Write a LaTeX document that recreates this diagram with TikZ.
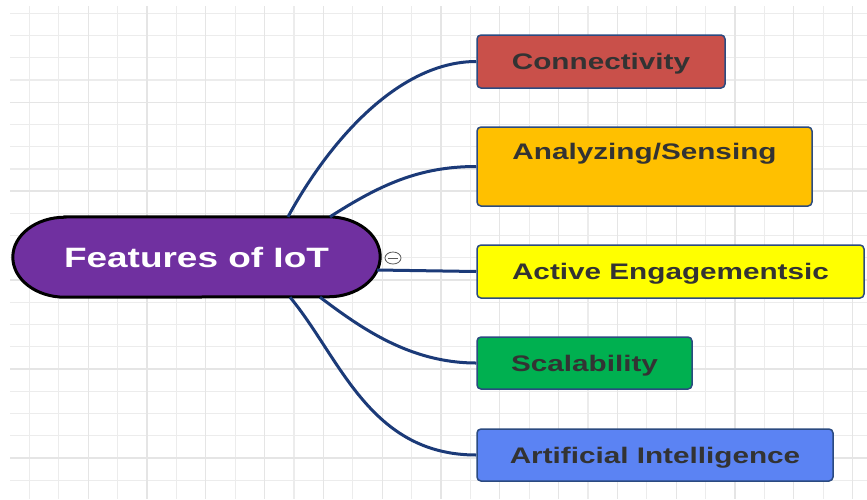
\documentclass[tikz,border=0pt]{standalone}
\usepackage{fontspec}
\setmainfont{Liberation Sans}[FakeStretch=1.32]
\usetikzlibrary{backgrounds,shapes.geometric}

\definecolor{gridgray}{HTML}{ECECEC}
\definecolor{gridmajor}{HTML}{E5E5E5}
\definecolor{linknavy}{HTML}{1B3A78}
\definecolor{boxedge}{HTML}{2B4A80}
\definecolor{rootpurple}{HTML}{7030A0}
\definecolor{connred}{HTML}{C9504A}
\definecolor{analyorange}{HTML}{FFC000}
\definecolor{activeyellow}{HTML}{FFFF00}
\definecolor{scalegreen}{HTML}{00B050}
\definecolor{aiblue}{HTML}{5B83F3}
\definecolor{labelgray}{HTML}{333333}

\begin{document}
\begin{tikzpicture}[x=1pt, y=1pt]
        \tikzstyle{grid_style} = [gridgray, line width=1.3]
        \tikzstyle{grid_major} = [gridmajor, line width=1.3]
        \tikzstyle{root_style} = [text=white, inner sep=0, minimum width=367pt, minimum height=80pt, text height=24pt, text depth=4pt, font=\fontsize{28}{32}\selectfont\bfseries]
        \tikzstyle{root_shape} = [fill=rootpurple, draw=black, line width=3]
        \tikzstyle{box_style} = [draw=boxedge, line width=1.5, rounded corners=4, inner sep=0, text=labelgray, text height=20pt, text depth=4pt, font=\fontsize{22.5}{26}\selectfont\bfseries]
        \tikzstyle{fold_style} = [ellipse, draw=gray!70!black, fill=white, line width=0.8, inner sep=0, minimum width=16pt, minimum height=12pt]
        \tikzstyle{link_style} = [linknavy, line width=3]

        \useasboundingbox (0,0) rectangle (867,-499);

        % The root in the middle left
        \node[root_style] (root) at (196.5,-257) {Features of IoT};
        \node[fold_style] (fold) at (393,-258) {};
        \draw[gray!70!black, line width=0.8] ([xshift=3pt]fold.west) -- ([xshift=-3pt]fold.east);

        % Then the features on the right
        \node[box_style, fill=connred, minimum width=248pt, minimum height=53pt] (conn) at (601,-61.5) {Connectivity};
        \node[box_style, fill=analyorange, minimum width=335pt, minimum height=79pt, text depth=35pt] (analy) at (644.5,-166.5) {Analyzing/Sensing};
        \node[box_style, fill=activeyellow, minimum width=387pt, minimum height=53pt] (active) at (670.5,-271.5) {Active Engagementsic};
        \node[box_style, fill=scalegreen, minimum width=215pt, minimum height=52pt] (scal) at (584.5,-363) {Scalability};
        \node[box_style, fill=aiblue, minimum width=356pt, minimum height=52pt] (ai) at (655,-455) {Artificial Intelligence};

        \draw[link_style] ([xshift=91.5pt]root.north) .. controls +(42,77) and +(-77,0) .. (conn.west);
        \draw[link_style] ([xshift=133.5pt]root.north) .. controls +(50,32) and +(-57,0) .. (analy.west);
        \draw[link_style] ([xshift=-3pt,yshift=-13pt]root.east) -- (active.west);
        \draw[link_style] ([xshift=123.5pt]root.south) .. controls +(40,-30) and +(-67,0) .. (scal.west);
        \draw[link_style] ([xshift=93.5pt]root.south) .. controls +(50,-60) and +(-107,0) .. (ai.west);

        % Grid and root shape behind
        \begin{pgfonlayer}{background}
            \fill[white] (0,0) rectangle (867,-499);
            \foreach \k in {1,...,29}
                \draw[grid_style] ({29.4*\k},-6) -- ({29.4*\k},-499);
            \foreach \k in {0,...,21}
                \draw[grid_style] (10,{-13.2-22.24*\k}) -- (867,{-13.2-22.24*\k});
            \foreach \k in {3,5,...,29}
                \draw[grid_major] ({29.4*\k},-6) -- ({29.4*\k},-499);
            \foreach \k in {4,8,...,20}
                \draw[grid_major] (10,{-13.2-22.24*\k}) -- (867,{-13.2-22.24*\k});
            \draw[root_shape] ([xshift=52pt]root.north west) -- ([xshift=-52pt]root.north east)
                arc[start angle=90, end angle=-90, x radius=52pt, y radius=40pt]
                -- ([xshift=52pt]root.south west)
                arc[start angle=270, end angle=90, x radius=52pt, y radius=40pt] -- cycle;
        \end{pgfonlayer}
    \end{tikzpicture}
\end{document}
